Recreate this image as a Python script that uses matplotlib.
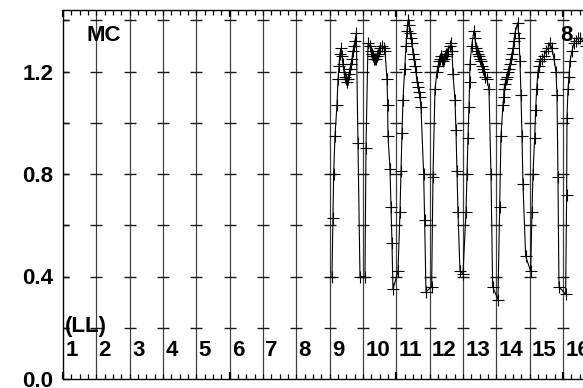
"""Light-curve strip plot (MC, panels 1-16), IDL-like look."""
import matplotlib
matplotlib.use("Agg")
import matplotlib.pyplot as plt
from matplotlib.ticker import MultipleLocator, FixedLocator

plt.rcParams["font.family"] = ["Liberation Sans", "DejaVu Sans"]
plt.rcParams["font.weight"] = "bold"

# panel numbers along the bottom, panel k spans x in [k-1, k]
panels = list(range(1, 17))
cross_levels = [0.2, 0.4, 0.6, 0.8, 1.0, 1.2, 1.4]
ytick_vals = [0.0, 0.4, 0.8, 1.2]
ytick_labels = ["0.0", "0.4", "0.8", "1.2"]

# the measured curve (only panels 9-16 have data)
curve_x = [
    8.07, 8.10, 8.12, 8.16, 8.22, 8.25, 8.28, 8.31, 8.34, 8.37, 8.40, 8.43, 8.46,
    8.49, 8.52, 8.55, 8.58, 8.61, 8.64, 8.67, 8.70, 8.73, 8.76, 8.80, 8.85, 8.91,
    9.06, 9.09, 9.15, 9.21, 9.24, 9.27, 9.30, 9.33, 9.36, 9.39, 9.42, 9.45, 9.48,
    9.51, 9.57, 9.63, 9.66, 9.72, 9.74, 9.75, 9.81, 9.84, 9.87, 9.90,
    10.05, 10.11, 10.14, 10.17, 10.20, 10.25, 10.29, 10.32, 10.35, 10.38, 10.41,
    10.44, 10.47, 10.50, 10.53, 10.56, 10.59, 10.62, 10.65, 10.68, 10.71, 10.74,
    10.82, 10.85, 10.89,
    11.06, 11.10, 11.16, 11.22, 11.25, 11.28, 11.31, 11.34, 11.37, 11.40, 11.43,
    11.46, 11.49, 11.52, 11.55, 11.61, 11.64, 11.67, 11.70, 11.76, 11.79, 11.82,
    11.85, 11.91,
    12.00, 12.09, 12.12, 12.15, 12.18, 12.20, 12.21, 12.26, 12.33, 12.36, 12.39,
    12.42, 12.45, 12.48, 12.51, 12.54, 12.57, 12.60, 12.63, 12.66, 12.72, 12.78,
    12.84, 12.89,
    13.05, 13.10, 13.14, 13.20, 13.22, 13.23, 13.26, 13.29, 13.32, 13.35, 13.38,
    13.41, 13.44, 13.47, 13.50, 13.53, 13.56, 13.64, 13.68, 13.71, 13.74, 13.77,
    13.80, 13.88,
    14.03, 14.07, 14.10, 14.15, 14.18, 14.21, 14.25, 14.28, 14.31, 14.37, 14.43,
    14.49, 14.55, 14.61, 14.67, 14.73, 14.79, 14.82, 14.85, 14.88,
    15.08, 15.11, 15.12, 15.15, 15.18, 15.21, 15.27, 15.33, 15.39, 15.45, 15.51,
    15.60, 15.69,
]
curve_y = [
    0.40, 0.63, 0.80, 0.95, 1.07, 1.17, 1.22, 1.27, 1.29, 1.26, 1.23, 1.20, 1.18,
    1.17, 1.16, 1.17, 1.19, 1.21, 1.23, 1.25, 1.28, 1.30, 1.32, 1.35, 0.92, 0.40,
    0.40, 0.90, 1.31, 1.30, 1.28, 1.27, 1.26, 1.25, 1.25, 1.25, 1.26, 1.27, 1.28,
    1.29, 1.30, 1.29, 1.28, 1.17, 1.07, 0.95, 0.82, 0.67, 0.53, 0.35,
    0.42, 0.65, 0.81, 0.96, 1.09, 1.21, 1.30, 1.36, 1.40, 1.38, 1.35,
    1.33, 1.31, 1.27, 1.25, 1.22, 1.20, 1.16, 1.14, 1.12, 1.10, 1.06,
    0.80, 0.62, 0.34,
    0.36, 0.79, 1.13, 1.20, 1.22, 1.24, 1.25, 1.26, 1.25, 1.24, 1.25,
    1.26, 1.27, 1.27, 1.28, 1.30, 1.31, 1.28, 1.19, 1.09, 0.97, 0.81,
    0.65, 0.42,
    0.41, 0.65, 0.80, 0.94, 1.06, 1.16, 1.23, 1.30, 1.36, 1.33, 1.29,
    1.28, 1.27, 1.26, 1.25, 1.24, 1.22, 1.21, 1.20, 1.18, 1.17, 1.13,
    0.80, 0.36,
    0.31, 0.67, 0.95, 1.07, 1.10, 1.13, 1.15, 1.17, 1.18, 1.20, 1.21,
    1.23, 1.25, 1.27, 1.29, 1.32, 1.35, 1.39, 1.33, 1.24, 1.11, 0.95,
    0.76, 0.48,
    0.42, 0.65, 0.80, 0.94, 1.05, 1.13, 1.20, 1.22, 1.24, 1.25, 1.26,
    1.28, 1.29, 1.31, 1.29, 1.25, 1.20, 1.11, 0.79, 0.36,
    0.33, 0.72, 1.02, 1.13, 1.18, 1.24, 1.28, 1.31, 1.32, 1.33, 1.33,
    1.32, 1.30,
]

W, H = 583, 388
fig = plt.figure(figsize=(W / 100, H / 100), dpi=100)
# axes runs past the right edge of the image, as in the original
ax = fig.add_axes([63 / W, 9 / H, 533.3 / W, 369 / H])
ax.set_xlim(0, 16)
ax.set_ylim(0, 1.44)

# panel separators and the short y marks on each of them
for b in range(0, len(panels) + 1):
    if b > 0:
        ax.axvline(b, color="0.25", linewidth=0.9, zorder=1)
    ax.plot([b] * len(cross_levels), cross_levels, linestyle="none",
            marker="_", markersize=9, markeredgewidth=1.0, color="0.1", zorder=2)

ax.plot(curve_x, curve_y, color="black", linewidth=0.8,
        marker="+", markersize=9, markeredgewidth=0.8, zorder=3)

for k in panels:
    ax.text(k - 1 + 0.07, 0.113, str(k), ha="left", va="center",
            fontsize=16, fontweight="bold")
ax.text(0.06, 0.205, "(LL)", ha="left", va="center", fontsize=16, fontweight="bold")
ax.text(0.72, 1.34, "MC", ha="left", va="center", fontsize=16, fontweight="bold")
ax.text(14.91, 1.34, "8", ha="left", va="center", fontsize=16, fontweight="bold")

ax.yaxis.set_major_locator(FixedLocator(ytick_vals))
ax.set_yticklabels(ytick_labels, fontsize=16, fontweight="bold")
ax.yaxis.set_minor_locator(MultipleLocator(0.2))
ax.tick_params(axis="y", which="both", direction="in", length=4.3, width=1,
               right=False, pad=7)

ax.xaxis.set_major_locator(MultipleLocator(5))
ax.xaxis.set_minor_locator(MultipleLocator(0.25))
ax.tick_params(axis="x", which="major", direction="in", length=5, width=1.6,
               top=True, labelbottom=False)
ax.tick_params(axis="x", which="minor", direction="in", length=3.6, width=0.9,
               top=True)

for side in ("left", "top", "bottom"):
    ax.spines[side].set_linewidth(1.0)
ax.spines["right"].set_visible(False)

fig.savefig("out.png", dpi=100)
